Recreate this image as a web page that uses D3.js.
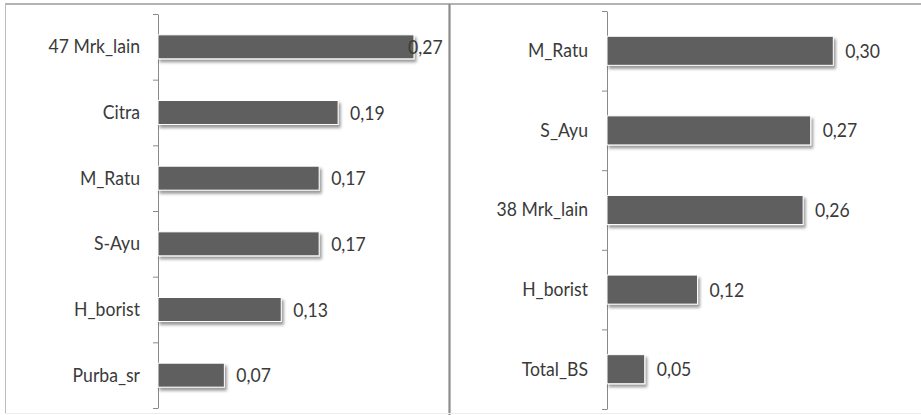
<!DOCTYPE html>
<html>
<head>
<meta charset="utf-8">
<script src="https://cdn.jsdelivr.net/npm/d3@7"></script>
<style>
  html, body { margin: 0; padding: 0; background: #fff; }
  svg { display: block; }
  text { font-family: Lato, "Liberation Sans", sans-serif; font-size: 20px; fill: #3a3a3a; }
</style>
</head>
<body>
<svg id="chart" width="921" height="415"></svg>
<script>
// Left panel: shares per brand
const leftCategories = ["47 Mrk_lain", "Citra", "M_Ratu", "S-Ayu", "H_borist", "Purba_sr"];
const leftValues = [0.27, 0.19, 0.17, 0.17, 0.13, 0.07];
const leftLabels = ["0,27", "0,19", "0,17", "0,17", "0,13", "0,07"];

// Right panel: shares per brand
const rightCategories = ["M_Ratu", "S_Ayu", "38 Mrk_lain", "H_borist", "Total_BS"];
const rightValues = [0.30, 0.27, 0.26, 0.12, 0.05];
const rightLabels = ["0,30", "0,27", "0,26", "0,12", "0,05"];

const svg = d3.select("#chart");
const W = 921, H = 415;
const SX = 0.88; // horizontal squeeze for the narrow label face

// soft shadow under each bar
const defs = svg.append("defs");
const f = defs.append("filter").attr("id", "barShadow")
  .attr("x", "-10%").attr("y", "-20%").attr("width", "130%").attr("height", "160%");
f.append("feDropShadow").attr("dx", 2).attr("dy", 3).attr("stdDeviation", 1.6)
  .attr("flood-color", "#000").attr("flood-opacity", 0.4);

// frame lines
svg.append("line").attr("x1", 5).attr("x2", W).attr("y1", 4).attr("y2", 4)
  .attr("stroke", "#9a9a9a").attr("stroke-width", 1.5);
svg.append("line").attr("x1", 5.5).attr("x2", 5.5).attr("y1", 4).attr("y2", 414)
  .attr("stroke", "#bdbdbd").attr("stroke-width", 1);
svg.append("line").attr("x1", 449.5).attr("x2", 449.5).attr("y1", 4).attr("y2", H)
  .attr("stroke", "#8c8c8c").attr("stroke-width", 2.2);
svg.append("line").attr("x1", 5).attr("x2", W).attr("y1", 413.5).attr("y2", 413.5)
  .attr("stroke", "#ececec").attr("stroke-width", 1);

function panel(cats, vals, labels, opt) {
  const g = svg.append("g");
  const x = d3.scaleLinear().domain(opt.xDomain).range([opt.x0, opt.x1]);
  const y = d3.scaleBand().domain(cats).range([opt.y0, opt.y1])
    .paddingInner(0.635).paddingOuter(0.3175);
  // tick marks sit between categories
  const yt = d3.scaleLinear().domain([0, cats.length]).range([opt.y0, opt.y1]);

  const tickAxis = g.append("g").attr("transform", `translate(${opt.x0},0)`)
    .call(d3.axisLeft(yt).tickValues(d3.range(cats.length + 1)).tickSize(5)
      .tickSizeOuter(0).tickFormat(""));
  tickAxis.selectAll("line").attr("stroke", "#8a8a8a");
  tickAxis.select(".domain").attr("stroke", "#8a8a8a");

  const catAxis = g.append("g").attr("transform", `translate(${opt.x0},0)`)
    .call(d3.axisLeft(y).tickSize(0).tickPadding(opt.labelGap));
  catAxis.select(".domain").remove();
  catAxis.attr("font-size", null).attr("font-family", null);
  catAxis.selectAll("text")
    .attr("fill", "#3a3a3a")
    .attr("x", -opt.labelGap / SX)
    .attr("transform", `scale(${SX},1)`);

  const rows = cats.map((c, i) => ({ c, v: vals[i], t: labels[i] }));

  g.selectAll("rect.bar").data(rows).enter().append("rect")
    .attr("class", "bar")
    .attr("x", x(0))
    .attr("y", d => y(d.c))
    .attr("width", d => x(d.v) - x(0))
    .attr("height", y.bandwidth())
    .attr("fill", "#5f5f5f")
    .attr("stroke", "#ffffff").attr("stroke-width", 1)
    .attr("filter", "url(#barShadow)");

  // value labels sit just past the bar end, kept inside the panel's label edge
  g.selectAll("text.val").data(rows).enter().append("text")
    .attr("class", "val")
    .attr("transform", d => `translate(${Math.min(x(d.v) + 12, opt.labelEdge)},${y(d.c) + y.bandwidth() / 2}) scale(${SX},1)`)
    .attr("dy", "0.35em")
    .text(d => d.t);
}

panel(leftCategories, leftValues, leftLabels,
  { xDomain: [0, 0.3], x0: 158, x1: 442.4, y0: 14, y1: 408, labelGap: 18, labelEdge: 408 });
panel(rightCategories, rightValues, rightLabels,
  { xDomain: [0, 0.35], x0: 607, x1: 871, y0: 11, y1: 409, labelGap: 19, labelEdge: W - 40 });
</script>
</body>
</html>
